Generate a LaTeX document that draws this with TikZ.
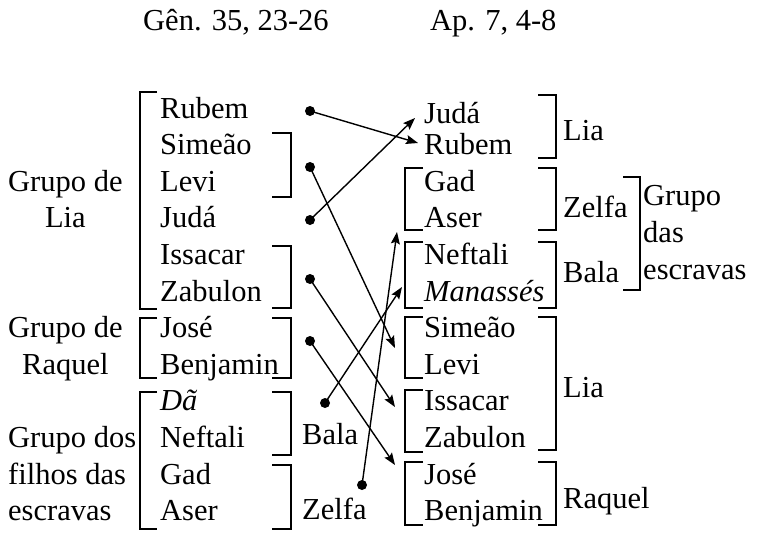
\documentclass[tikz,border=0pt]{standalone}
\usepackage{fontspec}
\setmainfont{Liberation Serif}
\usetikzlibrary{arrows.meta}
\tikzstyle{tribe} = [anchor=base west, inner sep=0pt]
\tikzstyle{grp} = [anchor=base west, inner sep=0pt, align=left]
\tikzstyle{brak} = [line width=1.5pt]
\tikzstyle{dot} = [circle, fill=black, inner sep=0pt, minimum size=10pt]
\tikzstyle{arrow} = [line width=1.4pt, -{Stealth[length=12pt,width=9pt,inset=2pt]}]
\begin{document}
\begin{tikzpicture}[x=1pt, y=-1pt, font=\fontsize{30.5}{36.6}\selectfont]
        \useasboundingbox (0,0) rectangle (757,533);

        \node (genesis) [tribe] at (143,30) {Gên. 35, 23-26};
        \node (apoc) [tribe] at (430,30) {Ap. 7, 4-8};

        % Genesis order
        \node (lRubem) [tribe] at (160,118) {Rubem};
        \node (lSimeao) [tribe] at (160,154.6) {Simeão};
        \node (lLevi) [tribe] at (160,191.2) {Levi};
        \node (lJuda) [tribe] at (160,227.8) {Judá};
        \node (lIssacar) [tribe] at (160,264.4) {Issacar};
        \node (lZabulon) [tribe] at (160,301) {Zabulon};
        \node (lJose) [tribe] at (160,337.6) {José};
        \node (lBenjamin) [tribe] at (160,374.2) {Benjamin};
        \node (lDa) [tribe] at (160,410.8) {\itshape Dã};
        \node (lNeftali) [tribe] at (160,447.4) {Neftali};
        \node (lGad) [tribe] at (160,484) {Gad};
        \node (lAser) [tribe] at (160,520.6) {Aser};

        % base anchor sits on the last line
        \node (gLia) [grp, align=center] at (8,227.8) {Grupo de\\Lia};
        \node (gRaquel) [grp, align=center] at (8,374.2) {Grupo de\\Raquel};
        \node (gEscravas) [grp] at (8,520.6) {Grupo dos\\filhos das\\escravas};
        \node (mBala) [tribe] at (302,444) {Bala};
        \node (mZelfa) [tribe] at (302,519) {Zelfa};

        % Apocalypse order
        \node (rJuda) [tribe] at (424,123) {Judá};
        \node (rRubem) [tribe] at (424,154.6) {Rubem};
        \node (rGad) [tribe] at (424,191.2) {Gad};
        \node (rAser) [tribe] at (424,227.8) {Aser};
        \node (rNeftali) [tribe] at (424,264.4) {Neftali};
        \node (rManasses) [tribe] at (424,301) {\itshape Manassés};
        \node (rSimeao) [tribe] at (424,337.6) {Simeão};
        \node (rLevi) [tribe] at (424,374.2) {Levi};
        \node (rIssacar) [tribe] at (424,410.8) {Issacar};
        \node (rZabulon) [tribe] at (424,447.4) {Zabulon};
        \node (rJose) [tribe] at (424,484) {José};
        \node (rBenjamin) [tribe] at (424,520.6) {Benjamin};

        \node (rLia) [tribe] at (563,140) {Lia};
        \node (rZelfa) [tribe] at (563,217) {Zelfa};
        \node (rBala) [tribe] at (563,282) {Bala};
        \node (rLia2) [tribe] at (563,397) {Lia};
        \node (rRaquel) [tribe] at (563,508) {Raquel};
        \node (rEscravas) [grp] at (643,279) {Grupo\\das\\escravas};

        % brackets left
        \draw [brak] (157,92) -| (140,309) -- (157,309);
        \draw [brak] (272,133) -| (291,197) -- (272,197);
        \draw [brak] (272,246) -| (291,308) -- (272,308);
        \draw [brak] (157,318) -| (140,378) -- (157,378);
        \draw [brak] (272,318) -| (291,378) -- (272,378);
        \draw [brak] (157,392) -| (140,529) -- (157,529);
        \draw [brak] (272,392) -| (291,455) -- (272,455);
        \draw [brak] (272,465) -| (291,529) -- (272,529);

        % brackets right
        \draw [brak] (538,95) -| (556,158) -- (538,158);
        \draw [brak] (423,168) -| (405,230) -- (423,230);
        \draw [brak] (538,168) -| (556,230) -- (538,230);
        \draw [brak] (423,242) -| (405,308) -- (423,308);
        \draw [brak] (538,242) -| (556,308) -- (538,308);
        \draw [brak] (623,177) -| (640,290) -- (623,290);
        \draw [brak] (423,317) -| (405,378) -- (423,378);
        \draw [brak] (423,390) -| (405,452) -- (423,452);
        \draw [brak] (538,317) -| (556,450) -- (538,450);
        \draw [brak] (423,462) -| (405,525) -- (423,525);
        \draw [brak] (538,462) -| (556,525) -- (538,525);

        % dots and ends
        \node (dRubem) [dot] at (310,111) {};
        \node (dSimeao) [dot] at (310,167) {};
        \node (dJuda) [dot] at (310,220) {};
        \node (dIssacar) [dot] at (310,279) {};
        \node (dJose) [dot] at (310,341) {};
        \node (dBala) [dot] at (325,403) {};
        \node (dZelfa) [dot] at (362,485) {};

        \coordinate (eRubem) at (418,143);
        \coordinate (eSimeao) at (395,348);
        \coordinate (eJuda) at (415,118);
        \coordinate (eIssacar) at (395,407);
        \coordinate (eJose) at (395,465);
        \coordinate (eBala) at (402,287);
        \coordinate (eZelfa) at (397,232);

        \draw [arrow] (dRubem.center) -- (eRubem);
        \draw [arrow] (dSimeao.center) -- (eSimeao);
        \draw [arrow] (dJuda.center) -- (eJuda);
        \draw [arrow] (dIssacar.center) -- (eIssacar);
        \draw [arrow] (dJose.center) -- (eJose);
        \draw [arrow] (dBala.center) -- (eBala);
        \draw [arrow] (dZelfa.center) -- (eZelfa);
    \end{tikzpicture}
\end{document}
